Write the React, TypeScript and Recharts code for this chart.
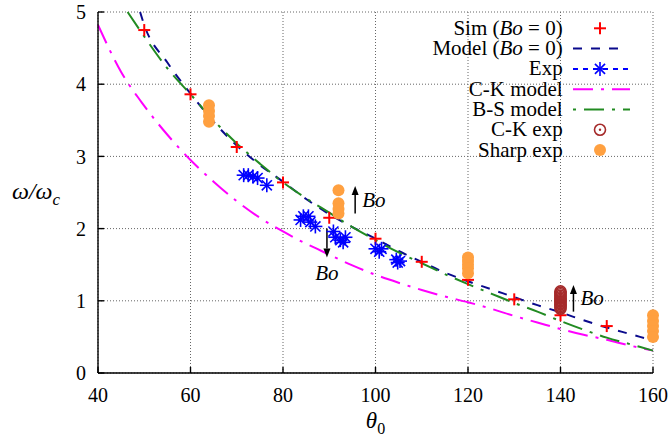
import { ComposedChart, Line, Scatter, XAxis, YAxis, CartesianGrid, Legend, ReferenceLine } from "recharts";

const FONT = "'Liberation Serif', 'Times New Roman', serif";

const xTicks = [40, 60, 80, 100, 120, 140, 160];
const yTicks = [0, 1, 2, 3, 4, 5];

// Sim (Bo = 0)
const simTheta = [50, 60, 70, 80, 90, 100, 110, 120, 130, 140, 150];
const simOmega = [4.75, 3.86, 3.13, 2.64, 2.15, 1.86, 1.54, 1.29, 1.02, 0.8, 0.65];

// Model (Bo = 0)
const modelTheta = [49.1, 50, 55, 60, 65, 70, 75, 80, 85, 90, 95, 100, 105, 110, 115, 120, 125, 130, 135, 140, 145, 150, 155, 160];
const modelOmega = [5.0, 4.82, 4.3, 3.87, 3.48, 3.15, 2.88, 2.65, 2.41, 2.2, 2.02, 1.86, 1.69, 1.54, 1.39, 1.27, 1.16, 1.05, 0.94, 0.84, 0.73, 0.63, 0.54, 0.45];

// Exp
const expTheta = [71.5, 72.5, 73.5, 74.5, 76.5, 83.8, 84.4, 85.5, 85.9, 87.0, 90.9, 91.3, 92.4, 93.0, 93.5, 100.0, 100.8, 101.3, 104.5, 104.8, 105.3];
const expOmega = [2.74, 2.74, 2.72, 2.7, 2.6, 2.12, 2.17, 2.17, 2.09, 2.03, 1.96, 1.88, 1.84, 1.81, 1.88, 1.72, 1.68, 1.72, 1.57, 1.53, 1.55];

// C-K model
const ckTheta = [40, 45, 50, 55, 60, 65, 70, 75, 80, 85, 90, 95, 100, 105, 110, 115, 120, 125, 130, 135, 140, 145, 150, 155, 160];
const ckOmega = [4.82, 4.17, 3.7, 3.3, 2.95, 2.65, 2.38, 2.15, 1.96, 1.79, 1.64, 1.49, 1.36, 1.25, 1.15, 1.06, 0.98, 0.89, 0.79, 0.7, 0.61, 0.53, 0.46, 0.38, 0.31];

// B-S model
const bsTheta = [46.4, 50, 55, 60, 65, 70, 75, 80, 85, 90, 95, 100, 105, 110, 115, 120, 125, 130, 135, 140, 145, 150, 155, 160];
const bsOmega = [5.0, 4.66, 4.22, 3.86, 3.5, 3.18, 2.9, 2.64, 2.42, 2.22, 2.02, 1.84, 1.67, 1.52, 1.37, 1.23, 1.1, 0.97, 0.85, 0.72, 0.6, 0.49, 0.4, 0.31];

// C-K exp
const ckExpTheta = [140, 140, 140, 140, 140, 140, 140, 140, 140, 140, 140, 140, 140];
const ckExpOmega = [1.13, 1.11, 1.09, 1.07, 1.05, 1.03, 1.01, 0.99, 0.97, 0.95, 0.93, 0.91, 0.89];

// Sharp exp
const sharpTheta = [64, 64, 64, 64, 92, 92, 92, 92, 120, 120, 120, 120, 120, 160, 160, 160, 160, 160];
const sharpOmega = [3.71, 3.63, 3.56, 3.48, 2.53, 2.35, 2.27, 2.21, 1.6, 1.55, 1.5, 1.45, 1.38, 0.8, 0.72, 0.65, 0.58, 0.5];

// Bo arrows
const arrowTheta = [95.6, 89.5, 142.8];
const arrowFrom = [2.21, 2.0, 0.85];
const arrowTo = [2.59, 1.6, 1.22];
const arrowLabelSide = ["right", "below", "right"];

const legendLabels = ["Sim (Bo = 0)", "Model (Bo = 0)", "Exp", "C-K model", "B-S model", "C-K exp", "Sharp exp"];

const zip = (xs: number[], ys: number[]) => xs.map((x, i) => ({ x, y: ys[i] }));

const simData = zip(simTheta, simOmega);
const modelData = zip(modelTheta, modelOmega);
const expData = zip(expTheta, expOmega);
const ckData = zip(ckTheta, ckOmega);
const bsData = zip(bsTheta, bsOmega);
const ckExpData = zip(ckExpTheta, ckExpOmega);
const sharpData = zip(sharpTheta, sharpOmega);

const RED = "#ff0000";
const NAVY = "#0a0a8c";
const BLUE = "#0000ff";
const MAGENTA = "#ff00ff";
const GREEN = "#228b22";
const BROWN = "#a52a2a";
const ORANGE = "#ffa040";

const Plus = ({ cx, cy }: any) => (
  <g stroke={RED} strokeWidth={2}>
    <line x1={cx - 6} y1={cy} x2={cx + 6} y2={cy} />
    <line x1={cx} y1={cy - 6} x2={cx} y2={cy + 6} />
  </g>
);

const Star = ({ cx, cy }: any) => {
  const r = 7;
  const d = r * 0.72;
  return (
    <g stroke={BLUE} strokeWidth={1.6}>
      <line x1={cx - r} y1={cy} x2={cx + r} y2={cy} />
      <line x1={cx} y1={cy - r} x2={cx} y2={cy + r} />
      <line x1={cx - d} y1={cy - d} x2={cx + d} y2={cy + d} />
      <line x1={cx - d} y1={cy + d} x2={cx + d} y2={cy - d} />
    </g>
  );
};

const RingDot = ({ cx, cy }: any) => (
  <g>
    <circle cx={cx} cy={cy} r={5.5} fill="none" stroke={BROWN} strokeWidth={1.6} />
    <circle cx={cx} cy={cy} r={1.2} fill={BROWN} />
  </g>
);

const Blob = ({ cx, cy }: any) => <circle cx={cx} cy={cy} r={6} fill={ORANGE} />;

const BoText = ({ x, y, anchor }: any) => (
  <text x={x} y={y} textAnchor={anchor} fontFamily={FONT} fontSize={21} fontStyle="italic" fill="#000">
    Bo
  </text>
);

const makeArrow = (side: string) => (p: any) => {
  const { x1, y1, x2, y2 } = p;
  const dir = y2 < y1 ? -1 : 1;
  const head = 9;
  return (
    <g>
      <line x1={x1} y1={y1} x2={x2} y2={y2 - dir * head} stroke="#000" strokeWidth={1.5} />
      <polygon points={`${x2},${y2} ${x2 - 3.5},${y2 - dir * head} ${x2 + 3.5},${y2 - dir * head}`} fill="#000" />
      {side === "right" ? (
        <BoText x={x1 + 7} y={(y1 + y2) / 2 + 7} anchor="start" />
      ) : (
        <BoText x={x2} y={y2 + 23} anchor="middle" />
      )}
    </g>
  );
};

const LegendSample = ({ i, cx, cy }: any) => {
  const x1 = cx - 27;
  const x2 = cx + 30;
  switch (i) {
    case 0:
      return <Plus cx={cx} cy={cy} />;
    case 1:
      return <line x1={x1} y1={cy} x2={x2 - 12} y2={cy} stroke={NAVY} strokeWidth={2} strokeDasharray="9 9" />;
    case 2:
      return (
        <g>
          <line x1={x1} y1={cy} x2={x2} y2={cy} stroke={BLUE} strokeWidth={2} strokeDasharray="5 5" />
          <Star cx={cx} cy={cy} />
        </g>
      );
    case 3:
      return <line x1={x1} y1={cy} x2={x2} y2={cy} stroke={MAGENTA} strokeWidth={2} strokeDasharray="20 8 3 8" />;
    case 4:
      return <line x1={x1} y1={cy} x2={x2} y2={cy} stroke={GREEN} strokeWidth={2} strokeDasharray="3 8 20 8" />;
    case 5:
      return <RingDot cx={cx} cy={cy} />;
    default:
      return <Blob cx={cx} cy={cy} />;
  }
};

const renderLegend = () => (
  <svg width={250} height={160}>
    {legendLabels.map((label, i) => {
      const cy = 18.3 + 20.3 * i;
      return (
        <g key={label}>
          <text x={162.7} y={cy + 6.5} textAnchor="end" fontFamily={FONT} fontSize={21} fill="#000">
            {label.split(/(Bo)/).map((part, j) =>
              part === "Bo" ? (
                <tspan key={j} fontStyle="italic">
                  Bo
                </tspan>
              ) : (
                <tspan key={j}>{part}</tspan>
              )
            )}
          </text>
          <LegendSample i={i} cx={200} cy={cy} />
        </g>
      );
    })}
  </svg>
);

const tickStyle = { fontFamily: FONT, fontSize: 20, fill: "#000" };

export default function App() {
  return (
    <div style={{ position: "absolute", left: 0, top: 0, background: "#fff" }}>
      <ComposedChart width={671} height={440} margin={{ top: 12, right: 18, bottom: 0, left: 0 }}>
        <CartesianGrid stroke="#666" strokeDasharray="1 2" />
        <XAxis
          dataKey="x"
          type="number"
          domain={[40, 160]}
          ticks={xTicks}
          height={67}
          tickSize={-6}
          tickMargin={21}
          tick={tickStyle}
          stroke="#000"
          strokeWidth={1.4}
          label={{
            content: ({ viewBox }: any) => (
              <text x={viewBox.x + viewBox.width / 2} y={viewBox.y + 55} textAnchor="middle" fontFamily={FONT} fontSize={23} fill="#000">
                <tspan fontStyle="italic">θ</tspan>
                <tspan fontSize={16} dy={6}>0</tspan>
              </text>
            ),
          }}
        />
        <XAxis xAxisId="top" orientation="top" type="number" domain={[40, 160]} ticks={xTicks} height={0} tickSize={-6} tick={() => <g />} stroke="#000" strokeWidth={1.4} />
        <YAxis
          dataKey="y"
          type="number"
          domain={[0, 5]}
          ticks={yTicks}
          width={98}
          tickSize={-6}
          tickMargin={18}
          tick={tickStyle}
          stroke="#000"
          strokeWidth={1.4}
          label={{
            content: ({ viewBox }: any) => (
              <text x={36} y={viewBox.y + viewBox.height / 2 + 6} textAnchor="middle" fontFamily={FONT} fontSize={24} fontStyle="italic" fill="#000">
                ω/ω
                <tspan fontSize={17} dy={6}>c</tspan>
              </text>
            ),
          }}
        />
        <YAxis yAxisId="right" orientation="right" type="number" domain={[0, 5]} ticks={yTicks} width={0} tickSize={-6} tick={() => <g />} stroke="#000" strokeWidth={1.4} />
        <Legend layout="vertical" align="center" verticalAlign="middle" content={renderLegend} wrapperStyle={{ position: "absolute", left: 400, top: 10, width: 250, height: 160 }} />

        <Scatter name="Sim (Bo = 0)" data={simData} dataKey="y" shape={Plus} isAnimationActive={false} />
        <Line name="Model (Bo = 0)" data={modelData} dataKey="y" type="monotone" stroke={NAVY} strokeWidth={2} strokeDasharray="9 9" dot={false} activeDot={false} isAnimationActive={false} />
        <Scatter name="Exp" data={expData} dataKey="y" shape={Star} isAnimationActive={false} />
        <Line name="C-K model" data={ckData} dataKey="y" type="monotone" stroke={MAGENTA} strokeWidth={2} strokeDasharray="20 8 3 8" dot={false} activeDot={false} isAnimationActive={false} />
        <Line name="B-S model" data={bsData} dataKey="y" type="monotone" stroke={GREEN} strokeWidth={2} strokeDasharray="20 8 3 8" dot={false} activeDot={false} isAnimationActive={false} />
        <Scatter name="C-K exp" data={ckExpData} dataKey="y" shape={RingDot} isAnimationActive={false} />
        <Scatter name="Sharp exp" data={sharpData} dataKey="y" shape={Blob} isAnimationActive={false} />

        {arrowTheta.map((t, i) => (
          <ReferenceLine
            key={i}
            segment={[
              { x: t, y: arrowFrom[i] },
              { x: t, y: arrowTo[i] },
            ]}
            ifOverflow="visible"
            shape={makeArrow(arrowLabelSide[i])}
          />
        ))}
      </ComposedChart>
    </div>
  );
}
